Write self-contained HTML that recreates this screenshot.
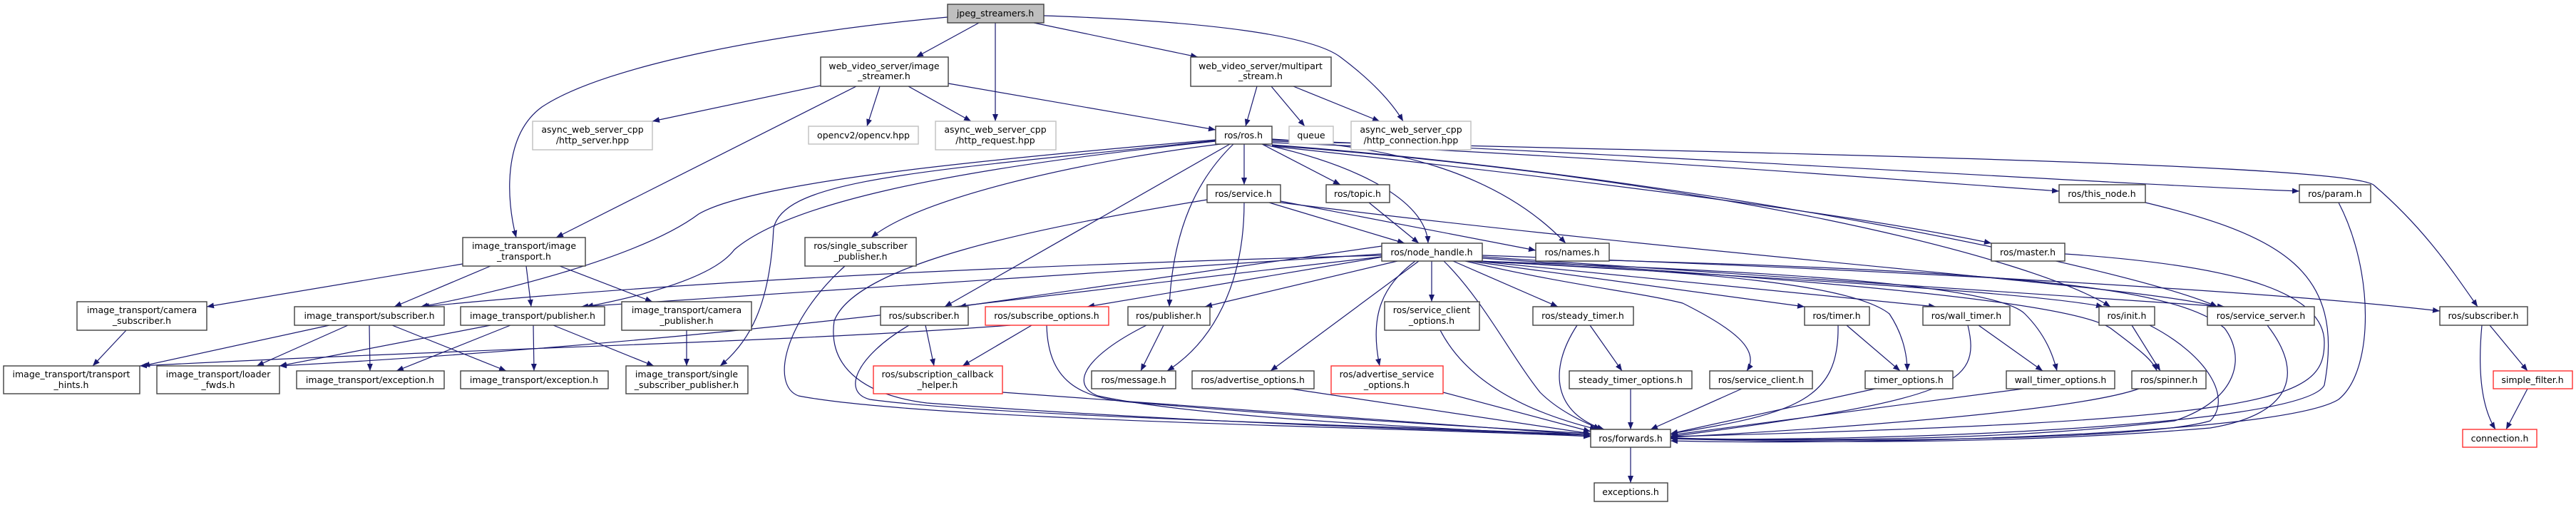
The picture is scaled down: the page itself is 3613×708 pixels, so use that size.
<!DOCTYPE html>
<html><head><meta charset="utf-8"><style>
html,body{margin:0;padding:0;background:#fff;}
svg{display:block;}
text{font-family:"DejaVu Sans","Liberation Sans",sans-serif;font-size:12.5px;fill:#000;text-anchor:middle;}
.e{fill:none;stroke:#191970;stroke-width:1.2;marker-end:url(#a);}
.n rect{fill:#fff;stroke:#404040;stroke-width:1.4;}
.g rect{fill:#fff;stroke:#bfbfbf;stroke-width:1.4;}
.r rect{fill:#fff;stroke:#ff3030;stroke-width:1.4;}
</style></head><body>
<svg width="3613" height="708" viewBox="0 0 3613 708" xmlns="http://www.w3.org/2000/svg">
<defs><marker id="a" markerUnits="userSpaceOnUse" markerWidth="11" markerHeight="8" refX="10" refY="4" orient="auto"><path d="M0,0 L10,4 L0,8 z" fill="#191970"/></marker></defs>
<g>
<path class="e" d="M1329,24 C1100,45 850,90 760,150 C705,190 710,280 724,333"/>
<path class="e" d="M1373,32 L1285,80"/>
<path class="e" d="M1396,32 L1396,170"/>
<path class="e" d="M1450,32 L1680,80"/>
<path class="e" d="M1464,22 C1700,30 1840,50 1880,80 C1920,110 1950,140 1968,170"/>
<path class="e" d="M1201,121 L780,333"/>
<path class="e" d="M1151,120 L915,170"/>
<path class="e" d="M1234,121 L1216,177"/>
<path class="e" d="M1274,121 L1362,170"/>
<path class="e" d="M1330,117 L1705,182"/>
<path class="e" d="M1763,121 L1747,177"/>
<path class="e" d="M1783,121 L1830,177"/>
<path class="e" d="M1814,121 L1935,170"/>
<path class="e" d="M1705,196 C1300,230 1050,260 980,300 C900,360 700,410 590,430"/>
<path class="e" d="M1705,198 C1300,240 1100,290 1030,350 C1000,390 900,415 822,430"/>
<path class="e" d="M1938,358 C1500,370 1000,390 592,430"/>
<path class="e" d="M1938,356 L815,430"/>
<path class="e" d="M1712,202 C1560,220 1300,270 1222,333"/>
<path class="e" d="M1705,197 C1300,240 1100,250 1085,320 C1080,430 1050,480 1010,513"/>
<path class="e" d="M1725,202 L1325,430"/>
<path class="e" d="M1730,202 C1680,250 1645,320 1640,430"/>
<path class="e" d="M1745,202 L1745,259"/>
<path class="e" d="M1770,202 L1880,259"/>
<path class="e" d="M1770,202 C1900,230 2000,280 2003,341"/>
<path class="e" d="M1784,195 C1950,205 2100,240 2196,341"/>
<path class="e" d="M1784,200 C2200,215 2700,255 2888,268"/>
<path class="e" d="M1784,196 C2300,215 2900,255 3225,268"/>
<path class="e" d="M1784,205 C2200,250 2600,300 2793,341"/>
<path class="e" d="M1784,198 C2500,215 3300,230 3330,260 C3400,320 3440,380 3475,430"/>
<path class="e" d="M1784,204 C2400,250 2850,360 2960,430"/>
<path class="e" d="M1784,203 C2400,250 3000,380 3110,430"/>
<path class="e" d="M3009,284 C3200,330 3290,380 3260,540 C3230,600 2600,620 2343,615"/>
<path class="e" d="M3280,284 C3330,380 3330,520 3280,560 C3200,610 2600,625 2343,618"/>
<path class="e" d="M2896,356 C3100,370 3260,400 3260,480 C3260,560 3200,590 2343,612"/>
<path class="e" d="M649,370 L290,430"/>
<path class="e" d="M688,373 L553,430"/>
<path class="e" d="M738,373 L745,430"/>
<path class="e" d="M785,373 L915,423"/>
<path class="e" d="M177,463 L130,513"/>
<path class="e" d="M462,456 L200,513"/>
<path class="e" d="M488,456 L360,513"/>
<path class="e" d="M518,456 L519,520"/>
<path class="e" d="M550,456 L710,520"/>
<path class="e" d="M688,456 L392,513"/>
<path class="e" d="M716,456 L556,520"/>
<path class="e" d="M748,456 L749,520"/>
<path class="e" d="M776,456 L917,513"/>
<path class="e" d="M963,463 L963,513"/>
<path class="e" d="M1417,456 C1100,480 700,487 196,513"/>
<path class="e" d="M1938,360 C1400,420 1000,480 392,513"/>
<path class="e" d="M1298,456 L1310,513"/>
<path class="e" d="M1275,456 C1200,500 1180,550 1220,560 C1400,585 2000,598 2231,610"/>
<path class="e" d="M1447,456 L1350,513"/>
<path class="e" d="M1468,456 C1470,540 1520,560 1600,565 C1900,590 2100,600 2231,608"/>
<path class="e" d="M1185,373 C1100,450 1080,540 1120,555 C1300,590 2000,600 2231,612"/>
<path class="e" d="M1780,284 L1970,341"/>
<path class="e" d="M1796,282 L2154,351"/>
<path class="e" d="M1745,284 C1745,400 1700,480 1637,520"/>
<path class="e" d="M1693,280 C1450,320 1200,370 1170,450 C1160,520 1220,555 1300,565 C1700,595 2100,605 2231,610"/>
<path class="e" d="M1796,284 C2400,360 3000,400 3110,430"/>
<path class="e" d="M1920,284 L1990,341"/>
<path class="e" d="M1938,345 L1345,430"/>
<path class="e" d="M1940,360 L1525,430"/>
<path class="e" d="M1960,366 L1690,430"/>
<path class="e" d="M1990,366 L1782,520"/>
<path class="e" d="M1985,366 C1940,400 1920,440 1935,513"/>
<path class="e" d="M2008,366 L2008,423"/>
<path class="e" d="M2025,366 C2080,420 2120,500 2160,550 C2190,580 2230,595 2245,602"/>
<path class="e" d="M2038,366 L2185,430"/>
<path class="e" d="M2055,366 C2200,400 2300,410 2360,425 C2430,460 2470,490 2450,520"/>
<path class="e" d="M2060,366 C2300,400 2450,420 2531,430"/>
<path class="e" d="M2070,366 L2715,430"/>
<path class="e" d="M2060,366 C2400,380 2600,400 2650,440 C2670,470 2675,500 2675,520"/>
<path class="e" d="M2070,366 C2500,380 2800,400 2840,440 C2870,470 2880,500 2885,520"/>
<path class="e" d="M2075,366 C2500,390 2850,410 2950,430"/>
<path class="e" d="M2079,362 C2500,390 2900,420 2960,460 C3000,490 3020,505 3025,520"/>
<path class="e" d="M2079,360 L3120,430"/>
<path class="e" d="M2079,358 C2700,380 3200,410 3422,436"/>
<path class="e" d="M1632,456 L1600,520"/>
<path class="e" d="M1608,456 C1520,500 1500,540 1540,555 C1700,590 2100,603 2231,612"/>
<path class="e" d="M1406,550 L2231,610"/>
<path class="e" d="M1810,545 L2231,608"/>
<path class="e" d="M2024,550 L2231,605"/>
<path class="e" d="M2020,463 C2060,540 2150,580 2240,602"/>
<path class="e" d="M2230,456 L2275,520"/>
<path class="e" d="M2212,456 C2170,520 2180,580 2250,602"/>
<path class="e" d="M2287,545 L2287,602"/>
<path class="e" d="M2443,545 L2315,602"/>
<path class="e" d="M2590,456 L2665,520"/>
<path class="e" d="M2578,456 C2580,560 2520,580 2343,608"/>
<path class="e" d="M2630,545 L2343,608"/>
<path class="e" d="M2775,456 L2865,520"/>
<path class="e" d="M2760,456 C2780,540 2740,560 2343,612"/>
<path class="e" d="M2838,545 L2343,610"/>
<path class="e" d="M2990,456 L3030,520"/>
<path class="e" d="M3015,456 C3100,500 3130,560 3100,590 C3000,620 2500,620 2343,614"/>
<path class="e" d="M3000,545 C2900,580 2500,605 2343,613"/>
<path class="e" d="M3180,456 C3230,520 3220,580 3100,600 C2800,625 2500,620 2343,615"/>
<path class="e" d="M2257,365 C2800,380 3050,400 3120,460 C3150,500 3140,560 3050,590 C2800,620 2500,618 2343,614"/>
<path class="e" d="M2287,627 L2287,677"/>
<path class="e" d="M3481,456 C3475,520 3480,570 3500,602"/>
<path class="e" d="M3492,456 L3545,520"/>
<path class="e" d="M3545,545 L3515,602"/>
</g>
<g class="n"><rect x="1329" y="6" width="135" height="26" style="fill:#bfbfbf"/><text x="1396" y="23">jpeg_streamers.h</text></g>
<g class="n"><rect x="1151" y="80" width="179" height="41"/><text x="1240" y="97">web_video_server/image</text><text x="1240" y="111">_streamer.h</text></g>
<g class="n"><rect x="1670" y="80" width="197" height="41"/><text x="1768" y="97">web_video_server/multipart</text><text x="1768" y="111">_stream.h</text></g>
<g class="g"><rect x="747" y="170" width="168" height="40"/><text x="831" y="186">async_web_server_cpp</text><text x="831" y="201">/http_server.hpp</text></g>
<g class="g"><rect x="1134" y="177" width="154" height="25"/><text x="1211" y="194">opencv2/opencv.hpp</text></g>
<g class="g"><rect x="1312" y="170" width="169" height="40"/><text x="1396" y="186">async_web_server_cpp</text><text x="1396" y="201">/http_request.hpp</text></g>
<g class="n"><rect x="1705" y="177" width="79" height="25"/><text x="1744" y="194">ros/ros.h</text></g>
<g class="g"><rect x="1808" y="177" width="62" height="25"/><text x="1839" y="194">queue</text></g>
<g class="g"><rect x="1895" y="170" width="168" height="40"/><text x="1979" y="186">async_web_server_cpp</text><text x="1979" y="201">/http_connection.hpp</text></g>
<g class="n"><rect x="1693" y="259" width="103" height="25"/><text x="1744" y="276">ros/service.h</text></g>
<g class="n"><rect x="1860" y="259" width="89" height="25"/><text x="1904" y="276">ros/topic.h</text></g>
<g class="n"><rect x="2888" y="259" width="121" height="25"/><text x="2948" y="276">ros/this_node.h</text></g>
<g class="n"><rect x="3225" y="259" width="100" height="25"/><text x="3275" y="276">ros/param.h</text></g>
<g class="n"><rect x="649" y="333" width="172" height="40"/><text x="735" y="349">image_transport/image</text><text x="735" y="364">_transport.h</text></g>
<g class="n"><rect x="1129" y="333" width="156" height="40"/><text x="1207" y="349">ros/single_subscriber</text><text x="1207" y="364">_publisher.h</text></g>
<g class="n"><rect x="1938" y="341" width="141" height="25"/><text x="2008" y="358">ros/node_handle.h</text></g>
<g class="n"><rect x="2154" y="341" width="103" height="25"/><text x="2205" y="358">ros/names.h</text></g>
<g class="n"><rect x="2793" y="341" width="103" height="25"/><text x="2844" y="358">ros/master.h</text></g>
<g class="n"><rect x="108" y="423" width="182" height="40"/><text x="199" y="439">image_transport/camera</text><text x="199" y="454">_subscriber.h</text></g>
<g class="n"><rect x="413" y="430" width="210" height="26"/><text x="518" y="447">image_transport/subscriber.h</text></g>
<g class="n"><rect x="646" y="430" width="202" height="26"/><text x="747" y="447">image_transport/publisher.h</text></g>
<g class="n"><rect x="872" y="423" width="182" height="40"/><text x="963" y="439">image_transport/camera</text><text x="963" y="454">_publisher.h</text></g>
<g class="n"><rect x="1235" y="430" width="123" height="26"/><text x="1296" y="447">ros/subscriber.h</text></g>
<g class="r"><rect x="1382" y="430" width="173" height="26"/><text x="1468" y="447">ros/subscribe_options.h</text></g>
<g class="n"><rect x="1582" y="430" width="115" height="26"/><text x="1639" y="447">ros/publisher.h</text></g>
<g class="n"><rect x="1942" y="423" width="133" height="40"/><text x="2008" y="439">ros/service_client</text><text x="2008" y="454">_options.h</text></g>
<g class="n"><rect x="2150" y="430" width="141" height="26"/><text x="2220" y="447">ros/steady_timer.h</text></g>
<g class="n"><rect x="2531" y="430" width="91" height="26"/><text x="2576" y="447">ros/timer.h</text></g>
<g class="n"><rect x="2697" y="430" width="122" height="26"/><text x="2758" y="447">ros/wall_timer.h</text></g>
<g class="n"><rect x="2944" y="430" width="78" height="26"/><text x="2983" y="447">ros/init.h</text></g>
<g class="n"><rect x="3096" y="430" width="150" height="26"/><text x="3171" y="447">ros/service_server.h</text></g>
<g class="n"><rect x="3422" y="430" width="123" height="26"/><text x="3483" y="447">ros/subscriber.h</text></g>
<g class="n"><rect x="5" y="513" width="191" height="39"/><text x="100" y="529">image_transport/transport</text><text x="100" y="544">_hints.h</text></g>
<g class="n"><rect x="220" y="513" width="172" height="39"/><text x="306" y="529">image_transport/loader</text><text x="306" y="544">_fwds.h</text></g>
<g class="n"><rect x="416" y="520" width="207" height="25"/><text x="519" y="537">image_transport/exception.h</text></g>
<g class="n"><rect x="646" y="520" width="207" height="25"/><text x="749" y="537">image_transport/exception.h</text></g>
<g class="n"><rect x="878" y="513" width="171" height="39"/><text x="963" y="529">image_transport/single</text><text x="963" y="544">_subscriber_publisher.h</text></g>
<g class="r"><rect x="1225" y="513" width="181" height="39"/><text x="1315" y="529">ros/subscription_callback</text><text x="1315" y="544">_helper.h</text></g>
<g class="n"><rect x="1531" y="520" width="118" height="25"/><text x="1590" y="537">ros/message.h</text></g>
<g class="n"><rect x="1672" y="520" width="171" height="25"/><text x="1757" y="537">ros/advertise_options.h</text></g>
<g class="r"><rect x="1867" y="513" width="157" height="39"/><text x="1945" y="529">ros/advertise_service</text><text x="1945" y="544">_options.h</text></g>
<g class="n"><rect x="2201" y="520" width="172" height="25"/><text x="2287" y="537">steady_timer_options.h</text></g>
<g class="n"><rect x="2398" y="520" width="144" height="25"/><text x="2470" y="537">ros/service_client.h</text></g>
<g class="n"><rect x="2616" y="520" width="123" height="25"/><text x="2677" y="537">timer_options.h</text></g>
<g class="n"><rect x="2814" y="520" width="152" height="25"/><text x="2890" y="537">wall_timer_options.h</text></g>
<g class="n"><rect x="2990" y="520" width="104" height="25"/><text x="3042" y="537">ros/spinner.h</text></g>
<g class="r"><rect x="3497" y="520" width="111" height="25"/><text x="3552" y="537">simple_filter.h</text></g>
<g class="n"><rect x="2231" y="602" width="112" height="25"/><text x="2287" y="619">ros/forwards.h</text></g>
<g class="r"><rect x="3454" y="602" width="104" height="25"/><text x="3506" y="619">connection.h</text></g>
<g class="n"><rect x="2236" y="677" width="103" height="26"/><text x="2287" y="694">exceptions.h</text></g>
</svg>
</body></html>
